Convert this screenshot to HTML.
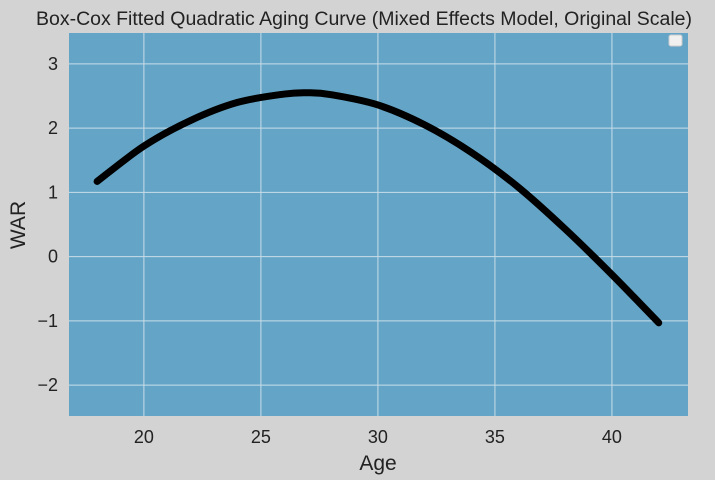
<!DOCTYPE html>
<html><head><meta charset="utf-8"><style>
body{margin:0;background:#d3d3d3;}
svg{display:block;font-family:"Liberation Sans","DejaVu Sans",sans-serif;}
</style></head><body>
<svg id="chart" width="715" height="480">
<rect width="715" height="480" fill="#d3d3d3"/>
<rect x="69" y="33" width="619" height="383" fill="#64a5c7"/>
<g id="grid"></g>
<g id="ticks"></g>
<path id="curve" fill="none" stroke="#000" stroke-width="7" stroke-linecap="round" stroke-linejoin="round"/>
<rect x="669" y="35" width="13" height="11" rx="2" fill="#f0f0f0" stroke="#ccc"/>
<text x="364" y="25" text-anchor="middle" font-size="19" textLength="656" lengthAdjust="spacingAndGlyphs" fill="#222">Box-Cox Fitted Quadratic Aging Curve (Mixed Effects Model, Original Scale)</text>
<text x="378" y="470" text-anchor="middle" font-size="21" fill="#222">Age</text>
<text x="25" y="225" text-anchor="middle" font-size="21" fill="#222" transform="rotate(-90 25 225)">WAR</text>
</svg>
<script>
const ages=[18,20,22,24,26,27,28,30,32,34,36,38,40,42];
const war=[1.17,1.72,2.12,2.40,2.53,2.55,2.52,2.36,2.05,1.62,1.08,0.43,-0.28,-1.03];
const xTicks=[20,25,30,35,40];
const yTicks=[3,2,1,0,-1,-2];
const yTickLabels=["3","2","1","0","\u22121","\u22122"];
const X0=69,X1=688,Y0=416,Y1=33,xmin=16.8,xmax=43.25,ymin=-2.48,ymax=3.48;
const sx=v=>X0+(v-xmin)/(xmax-xmin)*(X1-X0);
const sy=v=>Y0-(v-ymin)/(ymax-ymin)*(Y0-Y1);
const NS="http://www.w3.org/2000/svg";
const g=document.getElementById('grid'),t=document.getElementById('ticks');
function mk(tag,at,parent){const e=document.createElementNS(NS,tag);for(const k in at)e.setAttribute(k,at[k]);parent.appendChild(e);return e;}
xTicks.forEach(v=>{
 const l=mk('line',{x1:sx(v),x2:sx(v),y1:Y1,y2:Y0,stroke:'#c8dde8','stroke-width':1},g);
 
 
 const tx=mk('text',{x:sx(v),y:Y0+27,'text-anchor':'middle','font-size':18,fill:'#222'},t);
 tx.textContent=v;
 
 
});
yTicks.forEach((v,i)=>{
 const l=mk('line',{x1:X0,x2:X1,y1:sy(v),y2:sy(v),stroke:'#c8dde8','stroke-width':1},g);
 
 
 const tx=mk('text',{x:X0-11,y:sy(v)+6,'text-anchor':'end','font-size':18,fill:'#222'},t);
 tx.textContent=yTickLabels[i];
 
 
});
const P=ages.map((a,i)=>[sx(a),sy(war[i])]);
let d='M'+P[0][0]+','+P[0][1];
for(let i=0;i<P.length-1;i++){
 const p0=P[Math.max(0,i-1)],p1=P[i],p2=P[i+1],p3=P[Math.min(P.length-1,i+2)];
 const c1=[p1[0]+(p2[0]-p0[0])/6,p1[1]+(p2[1]-p0[1])/6];
 const c2=[p2[0]-(p3[0]-p1[0])/6,p2[1]-(p3[1]-p1[1])/6];
 d+=` C${c1[0]},${c1[1]} ${c2[0]},${c2[1]} ${p2[0]},${p2[1]}`;
}
document.getElementById('curve').setAttribute('d',d);
</script>
</body></html>
